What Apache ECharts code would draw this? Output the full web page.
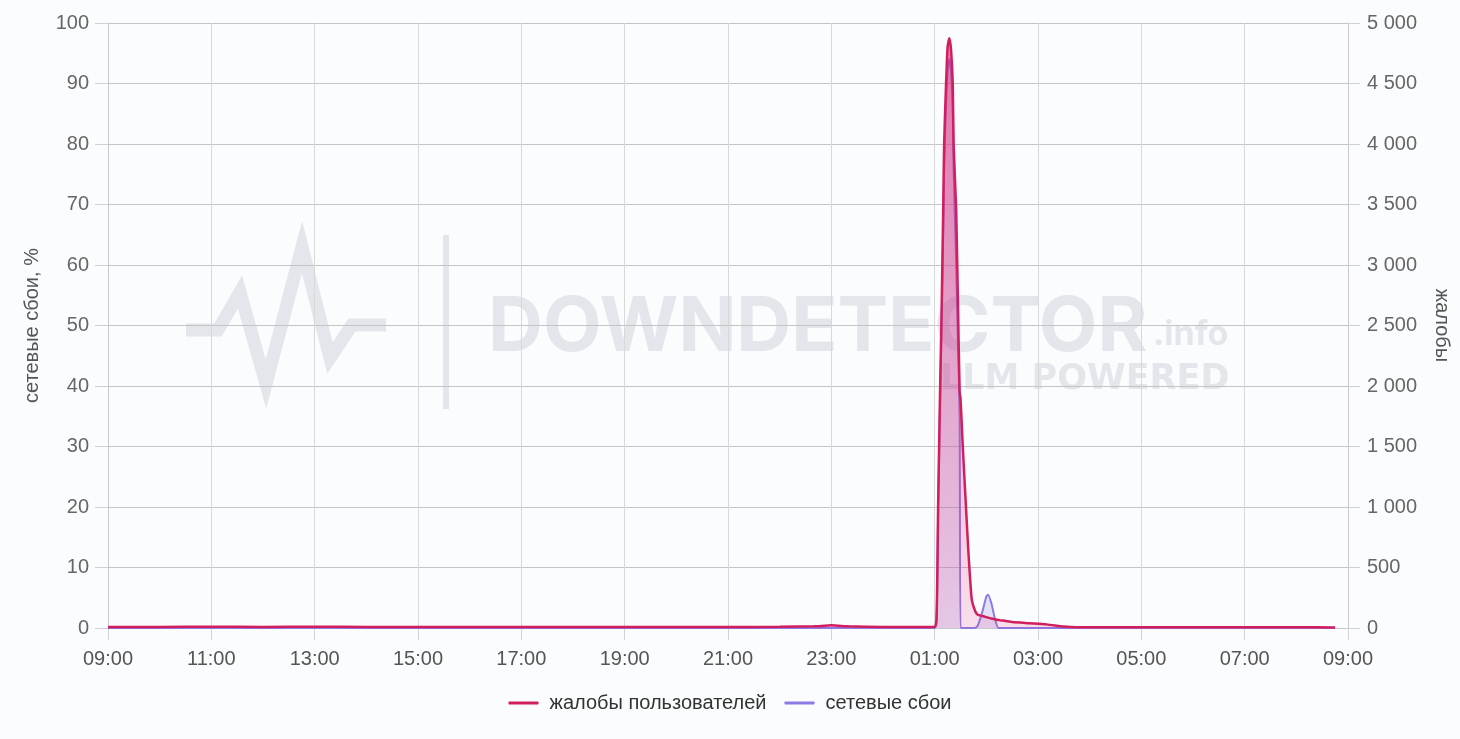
<!DOCTYPE html>
<html><head><meta charset="utf-8">
<script src="https://cdn.jsdelivr.net/npm/echarts@6/dist/echarts.min.js"></script>
<style>html,body{margin:0;padding:0;background:#fbfcfd;}#c{width:1460px;height:739px;}</style>
</head><body><div id="c"></div>
<script>
const times = ['09:00','10:00','11:00','12:00','13:00','14:00','15:00','16:00','17:00','18:00','19:00','20:00','21:00','22:00','22:40','23:00','23:20','00:00','00:30',
 '01:00','01:02','01:03','01:04','01:06','01:08','01:10','01:11','01:13','01:15','01:17','01:19','01:21','01:22','01:25','01:27','01:29','01:30','01:33','01:36','01:39','01:43','01:47','01:50','01:55',
 '02:00','02:02','02:06','02:10','02:14','02:15','02:30','02:50','03:10','03:30','03:45','04:00','05:00','06:00','07:00','08:00','08:45'];
const complaints = [8,9,10,9,11,9,8,9,8,9,8,9,9,10,14,22,14,9,8,
 10,60,400,1000,1850,2600,3500,4000,4450,4800,4875,4780,4500,4000,3450,2700,1950,1900,1450,1050,650,240,140,110,100,
 90,86,78,72,66,65,50,40,30,12,6,6,7,6,7,6,5];
const failures = [0,0,0,0,0,0,0,0,0,0,0,0,0,0,0,0,0,0,0,
 0,1,7,19,35,50,66,76,86,92,94,92,86,76,60,47,35,0,0,0,0,0,0,0.4,2.5,
 5.2,5.5,4,1.5,0,0,0,0,0,0,0,0,0,0,0,0,0];
const xTickLabels = ['09:00','11:00','13:00','15:00','17:00','19:00','21:00','23:00','01:00','03:00','05:00','07:00','09:00'];
const leftName = 'сетевые сбои, %';
const rightName = 'жалобы';
const seriesNames = ['жалобы пользователей','сетевые сбои'];

function off(t){const [h,m]=t.split(':').map(Number);return ((h-9+24)%24)+m/60;}
const complaintsData = times.map((t,i)=>[off(t),complaints[i]]);
const failuresData = times.map((t,i)=>[off(t),failures[i]]);

const chart = echarts.init(document.getElementById('c'));
const wm = '#e3e6ea';
chart.setOption({
  backgroundColor:'#fbfcfd',
  animation:false,
  textStyle:{fontFamily:'Liberation Sans, Arial, sans-serif'},
  grid:{left:108,right:110,top:23,bottom:111,containLabel:false},
  graphic:[
    {type:'polyline',z:-10,silent:true,shape:{points:[[186,330],[218,330],[240,292],[266,384],[302,247],[330,358],[352,325],[386,325]]},style:{fill:null,stroke:wm,lineWidth:13,lineJoin:'miter'}},
    {type:'rect',z:-10,silent:true,shape:{x:443,y:235,width:6,height:174},style:{fill:wm}},
    {type:'text',z:-10,silent:true,left:488,top:290,style:{text:'DOWNDETECTOR',font:'bold 76px Inter, DejaVu Sans, sans-serif',fill:wm}},
    {type:'text',z:-10,silent:true,left:1153,top:318,style:{text:'.info',font:'bold 34px Inter, DejaVu Sans, sans-serif',fill:wm}},
    {type:'text',z:-10,silent:true,left:940,top:362,style:{text:'LLM POWERED',font:'bold 35px DejaVu Sans, sans-serif',fill:wm}}
  ],
  legend:{
    data:seriesNames, bottom:21, left:'center', itemWidth:30, itemHeight:3, icon:'roundRect', itemGap:18,
    textStyle:{fontSize:20,color:'#333',padding:[0,0,0,6]}
  },
  xAxis:{
    type:'value', min:0, max:24, interval:2,
    axisLine:{show:true,lineStyle:{color:'#c8c8c8'}},
    axisTick:{show:true,length:12,lineStyle:{color:'#d4d4d4'}},
    axisLabel:{fontSize:20,color:'#555',margin:21,formatter:(v)=>xTickLabels[Math.round(v/2)]},
    splitLine:{show:true,lineStyle:{color:'#d8d8d8'}}
  },
  yAxis:[
    {type:'value',min:0,max:100,interval:10,position:'left',
     name:leftName,nameLocation:'middle',nameGap:66,nameTextStyle:{fontSize:20,color:'#555'},
     axisLine:{show:true,lineStyle:{color:'#c8c8c8'}},
     axisTick:{show:true,length:13,lineStyle:{color:'#d0d0d0'}},
     axisLabel:{fontSize:20,color:'#666',margin:19},
     splitLine:{show:true,lineStyle:{color:'#c4c4c4'}}},
    {type:'value',min:0,max:5000,interval:500,position:'right',
     name:rightName,nameLocation:'middle',nameGap:84,nameRotate:-90,nameTextStyle:{fontSize:20,color:'#555'},
     axisLine:{show:true,lineStyle:{color:'#c8c8c8'}},
     axisTick:{show:true,length:12,lineStyle:{color:'#d0d0d0'}},
     axisLabel:{fontSize:20,color:'#666',margin:19,formatter:(v)=>String(v).replace(/\B(?=(\d{3})+(?!\d))/g,' ')},
     splitLine:{show:false}}
  ],
  series:[
    {name:seriesNames[1],type:'line',yAxisIndex:0,data:failuresData,smooth:0.2,showSymbol:false,z:2,
     lineStyle:{color:'#8c7ae6',width:2},itemStyle:{color:'#8c7ae6'},
     areaStyle:{color:'rgba(150,130,230,0.32)'}},
    {name:seriesNames[0],type:'line',yAxisIndex:1,data:complaintsData,smooth:0.2,showSymbol:false,z:3,
     lineStyle:{color:'#d11f5e',width:2.5},itemStyle:{color:'#d11f5e'},
     areaStyle:{color:new echarts.graphic.LinearGradient(0,0,0,1,[{offset:0,color:'rgba(225,30,110,0.8)'},{offset:1,color:'rgba(225,60,130,0.22)'}])}}
  ]
});
</script></body></html>
